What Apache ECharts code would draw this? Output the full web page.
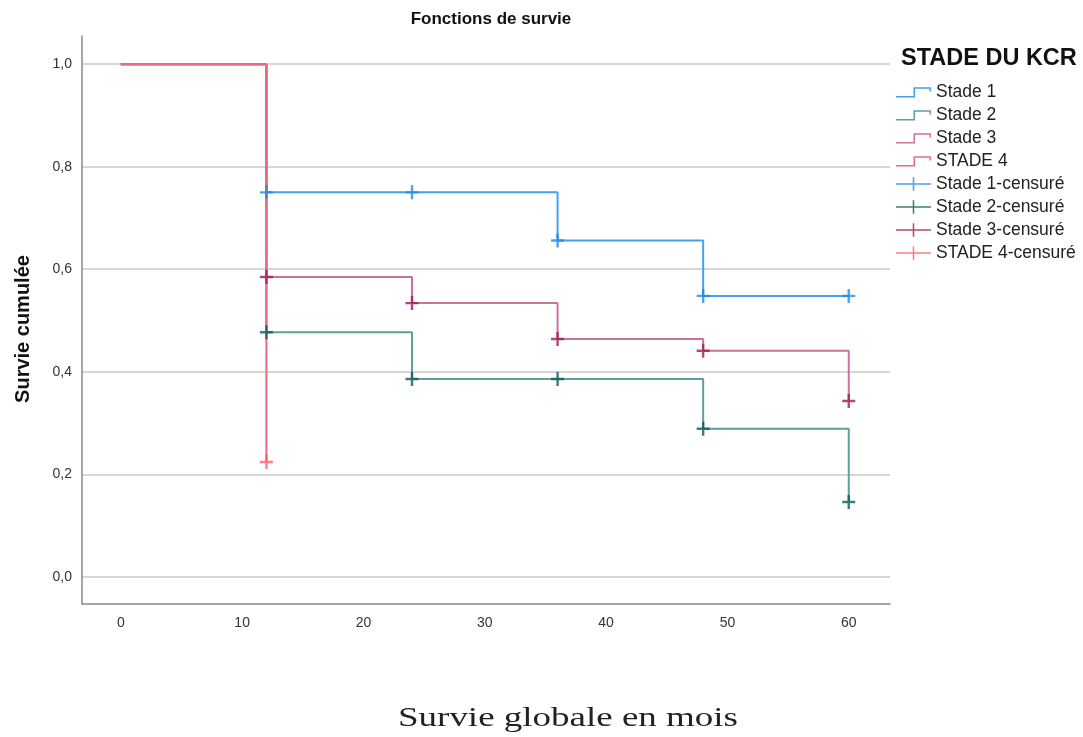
<!DOCTYPE html>
<html><head><meta charset="utf-8">
<script src="https://cdn.jsdelivr.net/npm/echarts@6/dist/echarts.min.js"></script>
<style>html,body{margin:0;padding:0;background:#fff}#c{width:1083px;height:737px}</style>
</head><body><div id="c"></div>
<script>
// ---- data ----
const seriesNames = ['Stade 1', 'Stade 2', 'Stade 3', 'STADE 4'];
const censorNames = ['Stade 1-censuré', 'Stade 2-censuré', 'Stade 3-censuré', 'STADE 4-censuré'];
// step curves [time, survival]
const stade1 = [[0, 1.0], [12, 0.75], [36, 0.656], [48, 0.548], [60, 0.548]];
const stade2 = [[0, 1.0], [12, 0.477], [24, 0.386], [48, 0.289], [60, 0.146]];
const stade3 = [[0, 1.0], [12, 0.585], [24, 0.534], [36, 0.464], [48, 0.441], [60, 0.343]];
const stade4 = [[0, 1.0], [12, 0.224]];
// censored marks
const cens1 = [[12, 0.75], [24, 0.75], [36, 0.656], [48, 0.548], [60, 0.548]];
const cens2 = [[12, 0.477], [24, 0.386], [36, 0.386], [48, 0.289], [60, 0.146]];
const cens3 = [[12, 0.585], [24, 0.534], [36, 0.464], [48, 0.441], [60, 0.343]];
const cens4 = [[12, 0.224]];
const xTicks = [0, 10, 20, 30, 40, 50, 60];
const yTicks = [0, 0.2, 0.4, 0.6, 0.8, 1.0];

const lineColors = ['#42a2ee', '#5f9e9a', '#c9739b', '#f0687f'];
const censColors = ['#1f8ae6', '#0b5e59', '#9e1a58', '#ff5d6c'];
const curves = [stade1, stade2, stade3, stade4];
const censors = [cens1, cens2, cens3, cens4];

// legend icons (36 x 14 box)
const stepIcon = 'path://M0,0 L0.05,0 L0.05,0.05 Z M36,14 L35.95,14 L35.95,13.95 Z ' +
  'M0,11 L18,11 L18,2 L36,2 L36,6.5 L34.4,6.5 L34.4,3.6 L19.6,3.6 L19.6,12.6 L0,12.6 Z';
const crossIcon = 'path://M0,6.2 L17.2,6.2 L17.2,0 L18.8,0 L18.8,6.2 L36,6.2 L36,7.8 L18.8,7.8 L18.8,14 L17.2,14 L17.2,7.8 L0,7.8 Z';
const markCross = 'path://M0,5.8 L5.3,5.8 L5.3,0 L7.7,0 L7.7,5.8 L13,5.8 L13,8.2 L7.7,8.2 L7.7,14 L5.3,14 L5.3,8.2 L0,8.2 Z';

const series = [];
curves.forEach((d, i) => {
  series.push({
    name: seriesNames[i], type: 'line', step: 'end', data: d,
    symbol: 'none', lineStyle: { color: lineColors[i], width: 2 },
    itemStyle: { color: lineColors[i] }, z: 2 + i, animation: false
  });
});
censors.forEach((d, i) => {
  series.push({
    name: censorNames[i], type: 'scatter', data: d,
    symbol: markCross, symbolSize: [13, 14],
    itemStyle: { color: censColors[i] }, z: 10 + i, animation: false
  });
});

const legendData = seriesNames.map((n, i) => ({ name: n, icon: stepIcon, itemStyle: { color: lineColors[i] } }))
  .concat(censorNames.map((n, i) => ({ name: n, icon: crossIcon, itemStyle: { color: censColors[i] } })));

// measure x-axis title to stretch it like the reference
const xTitle = 'Survie globale en mois';
const xTitleFont = 'normal 28px "Liberation Serif"';
const cv = document.createElement('canvas').getContext('2d');
cv.font = xTitleFont;
const xTitleW = cv.measureText(xTitle).width || 258;
const xTitleScale = 340 / xTitleW;

const chart = echarts.init(document.getElementById('c'), null, { renderer: 'canvas' });
chart.setOption({
  animation: false,
  backgroundColor: '#fff',
  title: [
    { text: 'Fonctions de survie', left: 486, textAlign: 'center', top: 6,
      textStyle: { fontFamily: 'Liberation Sans, Arial', fontSize: 17, fontWeight: 'bold', color: '#111' } },
    { text: 'STADE DU KCR', left: 896, top: 42,
      textStyle: { fontFamily: 'Liberation Sans, Arial', fontSize: 23.5, fontWeight: 'bold', color: '#111' } }
  ],
  graphic: [
    { type: 'text', x: 398, y: 719, scaleX: xTitleScale, silent: true,
      style: { text: xTitle, font: xTitleFont, fill: '#222', textAlign: 'left', textVerticalAlign: 'middle' } },
    { type: 'text', x: 23, y: 329, rotation: Math.PI / 2, silent: true,
      style: { text: 'Survie cumulée', font: 'bold 20px "Liberation Sans"', fill: '#111', textAlign: 'center', textVerticalAlign: 'middle' } }
  ],
  grid: { left: 82, top: 36, right: 193, bottom: 133, containLabel: false },
  legend: {
    orient: 'vertical', left: 891, top: 78, itemWidth: 35, itemHeight: 14, itemGap: 5,
    textStyle: { fontFamily: 'Liberation Sans, Arial', fontSize: 17.5, color: '#222' },
    data: legendData, selectedMode: false
  },
  xAxis: {
    type: 'value', min: -3.2, max: 63.4,
    axisLine: { show: true, onZero: false, lineStyle: { color: '#888', width: 1.5 } },
    axisTick: { show: false, customValues: xTicks },
    axisLabel: { customValues: xTicks, margin: 12, color: '#333', fontSize: 14, fontFamily: 'Liberation Sans, Arial' },
    splitLine: { show: false }
  },
  yAxis: {
    type: 'value', min: -0.053, max: 1.055,
    axisLine: { show: true, onZero: false, lineStyle: { color: '#888', width: 1.5 } },
    axisTick: { show: false, customValues: yTicks },
    axisLabel: { customValues: yTicks, margin: 10, color: '#333', fontSize: 14, fontFamily: 'Liberation Sans, Arial',
      formatter: v => v.toFixed(1).replace('.', ',') },
    splitLine: { show: true, lineStyle: { color: '#c8c8c8', width: 1.5 } }
  },
  series: series
});
</script></body></html>
